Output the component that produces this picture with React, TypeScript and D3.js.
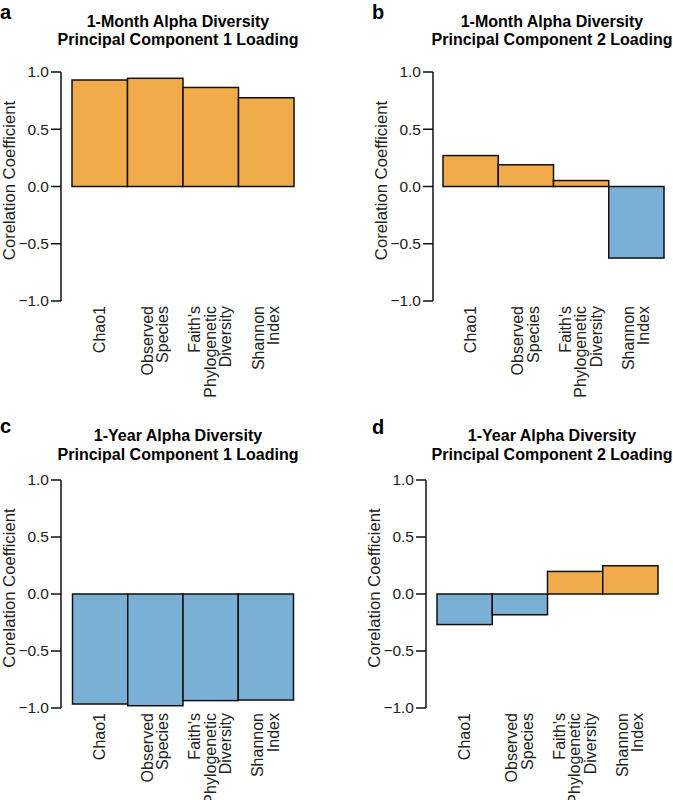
import React from "react";
import * as d3 from "d3";

const categories: string[][] = [
  ["Chao1"],
  ["Observed", "Species"],
  ["Faith's", "Phylogenetic", "Diversity"],
  ["Shannon", "Index"],
];
const month1PC1 = [0.93, 0.945, 0.865, 0.775];
const month1PC2 = [0.27, 0.19, 0.052, -0.625];
const year1PC1 = [-0.965, -0.98, -0.935, -0.93];
const year1PC2 = [-0.268, -0.182, 0.198, 0.248];
const yTicks = [1.0, 0.5, 0.0, -0.5, -1.0];
const titles = [
  ["1-Month Alpha Diversity", "Principal Component 1 Loading"],
  ["1-Month Alpha Diversity", "Principal Component 2 Loading"],
  ["1-Year Alpha Diversity", "Principal Component 1 Loading"],
  ["1-Year Alpha Diversity", "Principal Component 2 Loading"],
];
const letters = ["a", "b", "c", "d"];
const yLabel = "Corelation Coefficient";

const ORANGE = "#F2AB4A";
const BLUE = "#7BB0D6";
const FONT = "'Liberation Sans', Arial, Helvetica, sans-serif";

type Layout = {
  values: number[];
  axisX: number;
  barX0: number;
  barX1: number;
  yTop: number;
  yBot: number;
  titleX: number;
  titleY1: number;
  titleY2: number;
  letterX: number;
  letterY: number;
  yLabelX: number;
};

const panels: Layout[] = [
  { values: month1PC1, axisX: 61, barX0: 72, barX1: 294, yTop: 72, yBot: 301, titleX: 178, titleY1: 27, titleY2: 45, letterX: 0, letterY: 19, yLabelX: 15 },
  { values: month1PC2, axisX: 433, barX0: 443, barX1: 664, yTop: 72, yBot: 301, titleX: 552, titleY1: 27, titleY2: 45, letterX: 372, letterY: 19, yLabelX: 387 },
  { values: year1PC1, axisX: 61, barX0: 72.5, barX1: 293.5, yTop: 480, yBot: 708, titleX: 178, titleY1: 441, titleY2: 460, letterX: 0, letterY: 433, yLabelX: 15 },
  { values: year1PC2, axisX: 426, barX0: 437, barX1: 658, yTop: 480, yBot: 708, titleX: 552, titleY1: 441, titleY2: 460, letterX: 372, letterY: 434, yLabelX: 380 },
];

function Panel({ p, i }: { p: Layout; i: number }) {
  const y = d3.scaleLinear().domain([-1, 1]).range([p.yBot, p.yTop]);
  const x = d3
    .scaleBand<number>()
    .domain(d3.range(categories.length))
    .range([p.barX0, p.barX1])
    .paddingInner(0)
    .paddingOuter(0);
  const y0 = y(0);
  const labelTop = p.yBot + 5;
  const lineGap = 15.5;
  return (
    <g>
      <text x={p.letterX} y={p.letterY} fontFamily={FONT} fontWeight="bold" fontSize={20}>
        {letters[i]}
      </text>
      <text x={p.titleX} y={p.titleY1} textAnchor="middle" fontFamily={FONT} fontWeight="bold" fontSize={16}>
        {titles[i][0]}
      </text>
      <text x={p.titleX} y={p.titleY2} textAnchor="middle" fontFamily={FONT} fontWeight="bold" fontSize={16}>
        {titles[i][1]}
      </text>
      {p.values.map((v, k) => {
        const xs = x(k)!;
        const top = Math.min(y(v), y0);
        const h = Math.abs(y(v) - y0);
        return (
          <rect
            key={k}
            x={xs}
            y={top}
            width={x.bandwidth()}
            height={h}
            fill={v >= 0 ? ORANGE : BLUE}
            stroke="#111"
            strokeWidth={1.5}
          />
        );
      })}
      <line x1={p.axisX} x2={p.axisX} y1={y(1)} y2={y(-1)} stroke="#111" strokeWidth={1.5} />
      {yTicks.map((t) => (
        <g key={t}>
          <line x1={p.axisX - 10} x2={p.axisX} y1={y(t)} y2={y(t)} stroke="#111" strokeWidth={1.5} />
          <text
            x={p.axisX - 12}
            y={y(t)}
            dy="0.35em"
            textAnchor="end"
            fontFamily={FONT}
            fontSize={15.5}
            fill="#222"
          >
            {d3.format(".1f")(t).replace("-", "\u2212")}
          </text>
        </g>
      ))}
      <text
        transform={`translate(${p.yLabelX},${(p.yTop + p.yBot) / 2 - 6}) rotate(-90)`}
        textAnchor="middle"
        fontFamily={FONT}
        fontSize={16.7}
        fill="#222"
      >
        {yLabel}
      </text>
      {categories.map((lines, k) => {
        const cx = x(k)! + x.bandwidth() / 2;
        const n = lines.length;
        return lines.map((ln, j) => {
          const bx = cx + (j - (n - 1) / 2) * lineGap + 5;
          return (
            <text
              key={`${k}-${j}`}
              transform={`translate(${bx},${labelTop}) rotate(-90)`}
              textAnchor="end"
              fontFamily={FONT}
              fontSize={16}
              fill="#222"
            >
              {ln}
            </text>
          );
        });
      })}
    </g>
  );
}

export default function App() {
  return (
    <svg
      width={673}
      height={800}
      style={{ position: "absolute", left: 0, top: 0, background: "#fff" }}
    >
      <rect width={673} height={800} fill="#fff" />
      {panels.map((p, i) => (
        <Panel key={i} p={p} i={i} />
      ))}
    </svg>
  );
}
